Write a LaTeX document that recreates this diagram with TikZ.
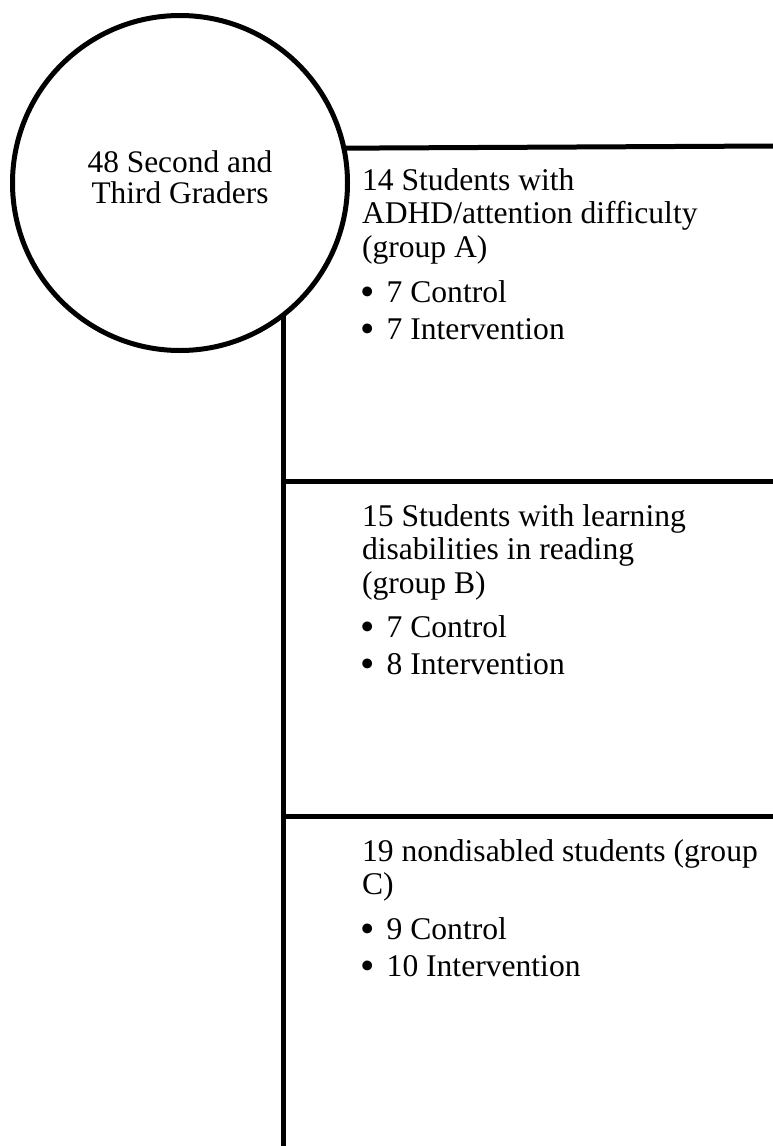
\documentclass[tikz,border=0pt]{standalone}
\usepackage{fontspec}
\setmainfont{Liberation Serif}
\newcommand{\bul}{\makebox[24.7pt][l]{\hspace{-1.5pt}\raisebox{-3pt}{\fontsize{41}{41}\selectfont •}}}
\begin{document}
\begin{tikzpicture}[x=1pt,y=-1pt,
  rule/.style={line width=5pt, draw=black},
  txt/.style={inner sep=0pt, outer sep=0pt, anchor=base west, align=left},
  ctxt/.style={inner sep=0pt, outer sep=0pt, anchor=base}]
\useasboundingbox (0,0) rectangle (773,1146);
\node[circle, rule, minimum size=335pt, inner sep=0pt, outer sep=0pt] (circ) at (180,183) {};
\coordinate (vend) at (281,1146);
\coordinate (h1e) at (773,146);
\coordinate (h2e) at (773,481);
\coordinate (h3e) at (773,816);
\draw[rule] (circ.-52.7) -- (circ.-52.7 |- vend);
\draw[rule] (circ.12.76) -- (h1e);
\draw[rule] (circ.-52.7 |- h2e) -- (h2e);
\draw[rule] (circ.-52.7 |- h3e) -- (h3e);
\node[ctxt] (title) at (180,172.7) {\fontsize{31.4}{30.6}\selectfont\begin{tabular}[t]{@{}c@{}}48 Second and\\Third Graders\end{tabular}};
\node[txt] (ga) at (362,190) {\fontsize{31.6}{33.7}\selectfont\begin{tabular}[t]{@{}l@{}}14 Students with\\ADHD/attention difficulty\\(group A)\\[11pt]\bul 7 Control\\[3.8pt]\bul 7 Intervention\end{tabular}};
\node[txt] (gb) at (362,526) {\fontsize{31.6}{33.7}\selectfont\begin{tabular}[t]{@{}l@{}}15 Students with learning\\disabilities in reading\\(group B)\\[10pt]\bul 7 Control\\[3.8pt]\bul 8 Intervention\end{tabular}};
\node[txt] (gc) at (362,861) {\fontsize{31.6}{33.7}\selectfont\begin{tabular}[t]{@{}l@{}}19 nondisabled students (group\\C)\\[11pt]\bul 9 Control\\[3.8pt]\bul 10 Intervention\end{tabular}};
\end{tikzpicture}
\end{document}
